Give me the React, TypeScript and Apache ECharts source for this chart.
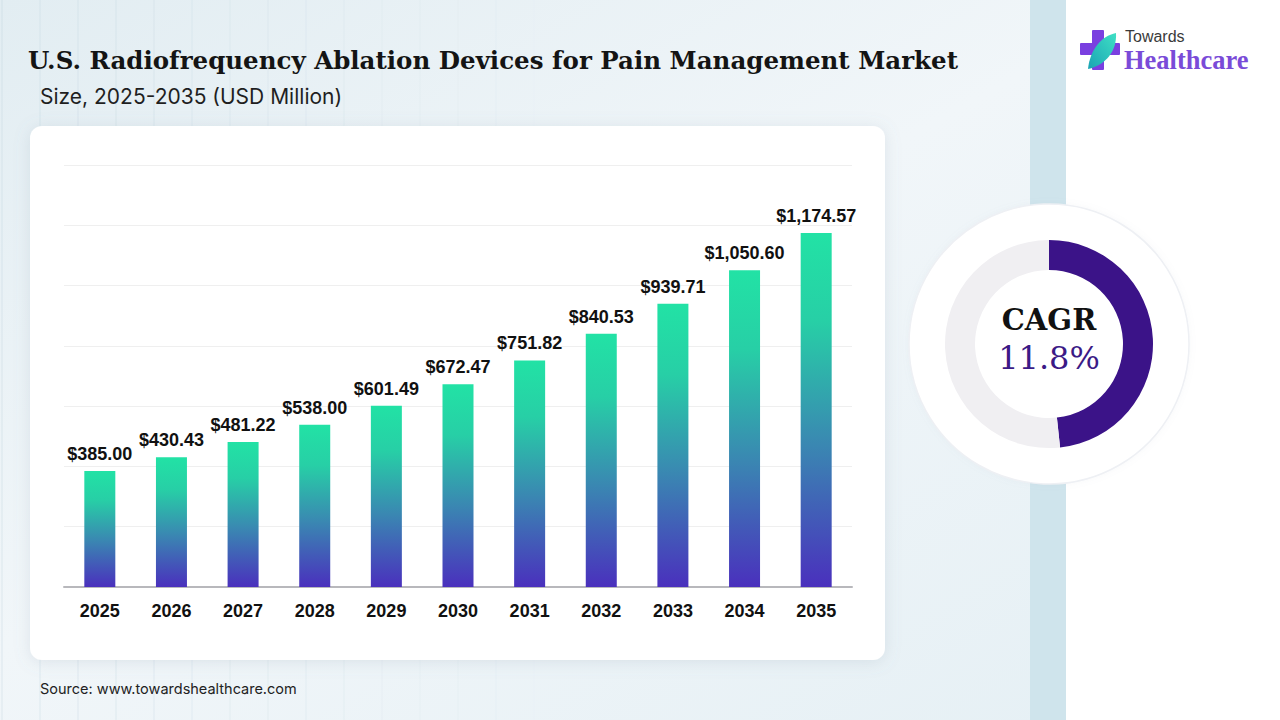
import React, { useEffect, useRef } from "react";
import * as echarts from "echarts";

const years = ["2025", "2026", "2027", "2028", "2029", "2030", "2031", "2032", "2033", "2034", "2035"];
const marketSize = [385.0, 430.43, 481.22, 538.0, 601.49, 672.47, 751.82, 840.53, 939.71, 1050.6, 1174.57];
const cagrShare = [48.3, 51.7];
const cagrText = "11.8%";

const title = "U.S. Radiofrequency Ablation Devices for Pain Management Market";
const subtitle = "Size, 2025-2035 (USD Million)";
const source = "Source: www.towardshealthcare.com";

export default function App() {
  const ref = useRef<HTMLDivElement>(null);

  useEffect(() => {
    document.body.style.margin = "0";
    if (!ref.current) return;
    echarts.graphic.registerShape(
      "leaf",
      echarts.graphic.extendPath("M0 36 C 2 17, 13 3, 28 0 C 29 18, 18 32, 0 36 Z", {})
    );
    const chart = echarts.init(ref.current, null, { renderer: "svg" });

    const bgLines: any[] = [];
    for (let y = 10; y < 720; y += 34) {
      bgLines.push({
        type: "line",
        z: -19,
        silent: true,
        shape: { x1: 0, y1: y, x2: 1030, y2: y },
        style: {
          stroke: new echarts.graphic.LinearGradient(0, 0, 1, 0, [
            { offset: 0, color: "rgba(190,210,222,0.5)" },
            { offset: 0.6, color: "rgba(200,218,228,0.12)" },
            { offset: 1, color: "rgba(220,230,236,0)" },
          ]),
          lineWidth: 1,
        },
      });
    }
    for (let x = 2; x < 1030; x += 38) {
      const op = Math.max(0, 0.4 - x / 1500);
      bgLines.push({
        type: "line",
        z: -19,
        silent: true,
        shape: { x1: x, y1: 0, x2: x, y2: 720 },
        style: { stroke: `rgba(190,210,222,${op})`, lineWidth: 1 },
      });
    }

    const option: any = {
      animation: false,
      grid: { left: 64, right: 428, top: 165, bottom: 133, containLabel: false },
      xAxis: {
        type: "category",
        data: years,
        axisLine: { lineStyle: { color: "#b8b8bc", width: 2 } },
        axisTick: { show: false },
        axisLabel: {
          color: "#111",
          fontFamily: "Liberation Sans, Arial, sans-serif",
          fontWeight: "bold",
          fontSize: 18,
          margin: 15,
        },
      },
      yAxis: {
        type: "value",
        min: 0,
        max: 1400,
        interval: 200,
        axisLabel: { show: false },
        axisLine: { show: false },
        axisTick: { show: false },
        splitLine: { lineStyle: { color: "#efefef", width: 1 } },
      },
      series: [
        {
          type: "bar",
          data: marketSize,
          barWidth: 31,
          silent: true,
          itemStyle: {
            color: new echarts.graphic.LinearGradient(0, 0, 0, 1, [
              { offset: 0, color: "#22e2a5" },
              { offset: 0.25, color: "#27cfa6" },
              { offset: 0.6, color: "#3a87b2" },
              { offset: 1, color: "#4a30bd" },
            ]),
          },
          label: {
            show: true,
            position: "top",
            distance: 8,
            color: "#111",
            fontFamily: "Liberation Sans, Arial, sans-serif",
            fontWeight: "bold",
            fontSize: 18,
            formatter: (p: any) =>
              "$" + Number(p.value).toLocaleString("en-US", { minimumFractionDigits: 2, maximumFractionDigits: 2 }),
          },
        },
        {
          type: "pie",
          center: [1049, 344],
          radius: [74, 104],
          startAngle: 90,
          clockwise: true,
          silent: true,
          label: { show: false },
          labelLine: { show: false },
          emphasis: { disabled: true },
          data: [
            { value: cagrShare[0], itemStyle: { color: "#3b1388" } },
            { value: cagrShare[1], itemStyle: { color: "#f0eff2" } },
          ],
        },
      ],
      graphic: [
        {
          type: "rect",
          z: -20,
          silent: true,
          shape: { x: 0, y: 0, width: 1280, height: 720 },
          style: {
            fill: new echarts.graphic.LinearGradient(0, 0, 1, 1, [
              { offset: 0, color: "#e2edf2" },
              { offset: 0.45, color: "#f1f6f9" },
              { offset: 1, color: "#e4eff4" },
            ]),
          },
        },
        ...bgLines,
        {
          type: "rect",
          z: -18,
          silent: true,
          shape: { x: 1030, y: 0, width: 36, height: 720 },
          style: { fill: "#cfe4ec" },
        },
        {
          type: "rect",
          z: -18,
          silent: true,
          shape: { x: 1066, y: 0, width: 214, height: 720 },
          style: { fill: "#ffffff" },
        },
        {
          type: "rect",
          z: -17,
          silent: true,
          shape: { x: 30, y: 126, width: 855, height: 534, r: 12 },
          style: {
            fill: "#ffffff",
            shadowBlur: 16,
            shadowColor: "rgba(120,140,160,0.18)",
            shadowOffsetX: 0,
            shadowOffsetY: 2,
          },
        },
        {
          type: "circle",
          z: -16,
          silent: true,
          shape: { cx: 1049, cy: 344, r: 140 },
          style: {
            fill: "#ffffff",
            stroke: "#eef0f4",
            lineWidth: 1.5,
            shadowBlur: 6,
            shadowColor: "rgba(150,160,180,0.08)",
          },
        },
        {
          type: "text",
          z: 10,
          silent: true,
          left: 28,
          top: 48,
          style: {
            text: title,
            fill: "#141414",
            font: "bold 24.5px 'DejaVu Serif', serif",
          },
        },
        {
          type: "text",
          z: 10,
          silent: true,
          left: 40,
          top: 86,
          style: {
            text: subtitle,
            fill: "#1f1f1f",
            font: "21px Inter, 'Liberation Sans', sans-serif",
          },
        },
        {
          type: "text",
          z: 10,
          silent: true,
          left: 40,
          top: 681,
          style: {
            text: source,
            fill: "#222",
            font: "14.5px Inter, 'Liberation Sans', sans-serif",
          },
        },
        {
          type: "text",
          z: 10,
          silent: true,
          x: 1049,
          y: 320,
          style: {
            text: "CAGR",
            fill: "#111",
            font: "bold 29px 'DejaVu Serif', serif",
            align: "center",
            verticalAlign: "middle",
          },
        },
        {
          type: "text",
          z: 10,
          silent: true,
          x: 1049,
          y: 358,
          style: {
            text: cagrText,
            fill: "#3b1a86",
            font: "32px 'DejaVu Serif', serif",
            align: "center",
            verticalAlign: "middle",
          },
        },
        // logo
        {
          type: "rect",
          z: 10,
          silent: true,
          shape: { x: 1092, y: 30, width: 12, height: 40, r: 1 },
          style: { fill: "#7a3fe0" },
        },
        {
          type: "rect",
          z: 10,
          silent: true,
          shape: { x: 1080, y: 43, width: 40, height: 12, r: 1 },
          style: { fill: "#7a3fe0" },
        },
        {
          type: "leaf",
          z: 11,
          silent: true,
          x: 1088,
          y: 33,
          style: {
            fill: new echarts.graphic.LinearGradient(0, 1, 1, 0, [
              { offset: 0, color: "#1aa3b4" },
              { offset: 1, color: "#3fe0c4" },
            ]),
          },
        },
        {
          type: "text",
          z: 10,
          silent: true,
          left: 1125,
          top: 28,
          style: {
            text: "Towards",
            fill: "#3a3a3a",
            font: "16px 'Liberation Sans', Arial, sans-serif",
          },
        },
        {
          type: "text",
          z: 10,
          silent: true,
          left: 1124,
          top: 46,
          style: {
            text: "Healthcare",
            fill: "#7a4bd8",
            font: "bold 26.5px 'Liberation Serif', serif",
          },
        },
      ],
    };

    chart.setOption(option);
    return () => chart.dispose();
  }, []);

  return <div ref={ref} style={{ width: 1280, height: 720 }} />;
}
